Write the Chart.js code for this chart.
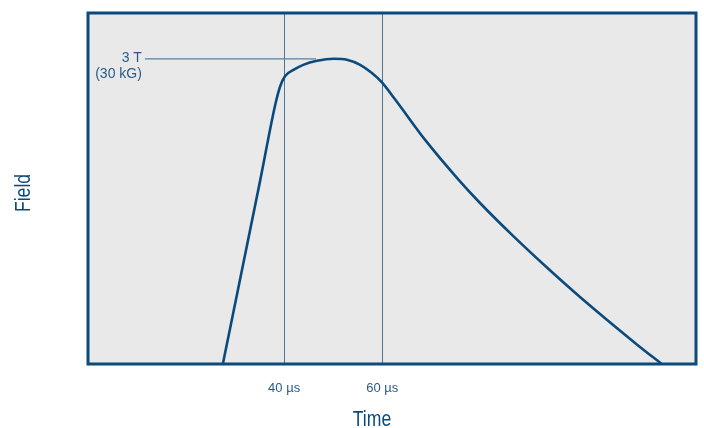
<!DOCTYPE html>
<html>
<head>
<meta charset="utf-8">
<script src="https://cdn.jsdelivr.net/npm/chart.js@4"></script>
<style>
  html, body { margin: 0; padding: 0; background: #ffffff; }
  #wrap { width: 704px; height: 428px; position: relative; }
</style>
</head>
<body>
<div id="wrap"><canvas id="c"></canvas></div>
<script>
// Pulse field vs time (µs, T)
const timeUs = [27.5, 35.1, 38.2, 39.2, 40.2, 41.9, 43.9, 46.7, 50.1, 52.8, 55.5, 57.9, 59.9, 62.65, 68.8, 75.6, 80.0, 86.8, 93.6, 100.4, 112.0, 117.0];
const fieldT = [0.0, 1.80, 2.55, 2.73, 2.83, 2.89, 2.94, 2.98, 3.00, 2.99, 2.94, 2.86, 2.77, 2.60, 2.20, 1.81, 1.58, 1.254, 0.948, 0.656, 0.19, 0.0];
const tickValues = [40, 60];
const tickLabels = ['40 µs', '60 µs'];
const peakLineX = [11.6, 46.5];
const peakLineY = [3, 3];
const peakLabels = ['3 T', '(30 kG)'];
const xTitle = 'Time';
const yTitle = 'Field';
const xRange = [0, 124];
const yRange = [0, 3.45];

const DARK = '#0b4a7c';
const TEXT = '#2a5b88';
const TITLE_FONT = '22px "Liberation Sans", Arial, sans-serif';

const framePlugin = {
  id: 'frame',
  beforeDraw(chart) {
    const a = chart.chartArea, ctx = chart.ctx;
    ctx.save();
    ctx.fillStyle = '#e9e9e9';
    ctx.fillRect(a.left, a.top, a.right - a.left, a.bottom - a.top);
    ctx.restore();
  },
  afterDatasetsDraw(chart) {
    const a = chart.chartArea, ctx = chart.ctx;
    const xs = chart.scales.x, ys = chart.scales.y;
    ctx.save();
    ctx.strokeStyle = DARK;
    ctx.lineWidth = 3;
    ctx.strokeRect(a.left, a.top, a.right - a.left, a.bottom - a.top);
    // peak annotation text
    ctx.fillStyle = TEXT;
    ctx.font = '14px "Liberation Sans", Arial, sans-serif';
    ctx.textAlign = 'right';
    ctx.textBaseline = 'middle';
    const tx = xs.getPixelForValue(peakLineX[0]) - 3;
    const ty = ys.getPixelForValue(peakLineY[0]);
    ctx.fillText(peakLabels[0], tx, ty - 1);
    ctx.fillText(peakLabels[1], tx, ty + 15);
    // axis titles (condensed)
    ctx.fillStyle = DARK;
    ctx.font = TITLE_FONT;
    ctx.textAlign = 'center';
    ctx.textBaseline = 'middle';
    ctx.save();
    ctx.translate(372, 420);
    ctx.scale(0.8, 1);
    ctx.fillText(xTitle, 0, 0);
    ctx.restore();
    ctx.save();
    ctx.translate(24, 193);
    ctx.rotate(-Math.PI / 2);
    ctx.scale(0.8, 1);
    ctx.fillText(yTitle, 0, 0);
    ctx.restore();
    ctx.restore();
  }
};

new Chart(document.getElementById('c'), {
  type: 'line',
  data: {
    datasets: [
      {
        label: 'Field',
        data: timeUs.map((t, i) => ({ x: t, y: fieldT[i] })),
        borderColor: DARK,
        borderWidth: 2.6,
        pointRadius: 0,
        cubicInterpolationMode: 'monotone',
        fill: false
      },
      {
        label: '3 T',
        data: peakLineX.map((t, i) => ({ x: t, y: peakLineY[i] })),
        borderColor: '#5a7ea0',
        borderWidth: 1.2,
        pointRadius: 0,
        tension: 0,
        fill: false
      }
    ]
  },
  options: {
    responsive: true,
    maintainAspectRatio: false,
    animation: false,
    layout: { padding: { left: 0, right: 8, top: 13, bottom: 0 } },
    plugins: { legend: { display: false }, tooltip: { enabled: false } },
    scales: {
      x: {
        type: 'linear',
        min: xRange[0],
        max: xRange[1],
        afterBuildTicks(s) { s.ticks = tickValues.map(v => ({ value: v })); },
        afterFit(s) { s.height = 64; },
        ticks: {
          color: TEXT,
          font: { size: 13, family: '"Liberation Sans", Arial, sans-serif' },
          padding: 17,
          maxRotation: 0,
          callback(v) { const i = tickValues.indexOf(v); return i >= 0 ? tickLabels[i] : ''; }
        },
        grid: { color: '#4d7596', lineWidth: 1, drawTicks: false },
        border: { display: false }
      },
      y: {
        type: 'linear',
        min: yRange[0],
        max: yRange[1],
        afterFit(s) { s.width = 88; },
        ticks: { display: false },
        grid: { display: false },
        border: { display: false }
      }
    }
  },
  plugins: [framePlugin]
});
</script>
</body>
</html>
